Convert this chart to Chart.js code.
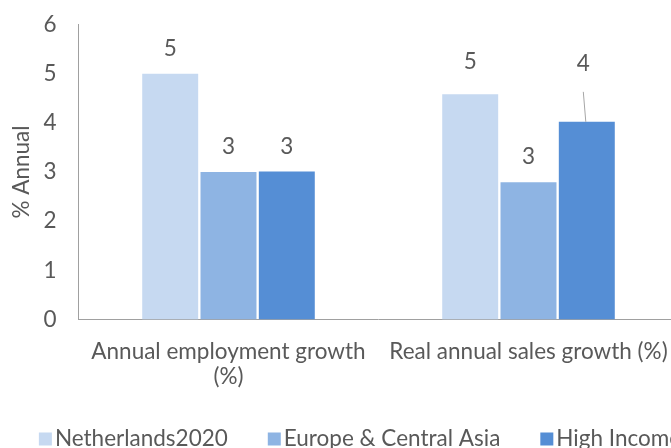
<!DOCTYPE html>
<html>
<head>
<meta charset="utf-8">
<script src="https://cdn.jsdelivr.net/npm/chart.js@4.4.0/dist/chart.umd.min.js"></script>
<style>
  html, body { margin: 0; padding: 0; background: #fff; overflow: hidden; }
  #wrap { width: 671px; height: 448px; overflow: hidden; }
  canvas { display: block; }
</style>
</head>
<body>
<div id="wrap"><canvas id="chart" width="720" height="448"></canvas></div>
<script>
// Chart data
const categories = [['Annual employment growth', '(%)'], 'Real annual sales growth (%)'];
const seriesNames = ['Netherlands2020', 'Europe & Central Asia', 'High Income'];
const netherlands = [5.0, 4.58];
const europeCentralAsia = [3.0, 2.79];
const highIncome = [3.01, 4.02];
const yTicks = [0, 1, 2, 3, 4, 5, 6];

const seriesColors = ['#C6D9F1', '#8EB4E3', '#558ED5'];
const textColor = '#595959';
const fontFamily = 'Lato, "Open Sans", sans-serif';
const fontSize = 22.5;

// Extra lift for labels that were dragged up in the original (key: category-dataset)
const labelNudge = { '1-0': 8, '1-1': 1, '1-2': 33 };

// Value labels above bars, rounded like the original
const valueLabels = {
  id: 'valueLabels',
  afterDatasetsDraw(chart) {
    const ctx = chart.ctx;
    ctx.save();
    ctx.font = `${fontSize}px ${fontFamily}`;
    ctx.fillStyle = textColor;
    ctx.textAlign = 'center';
    ctx.textBaseline = 'middle';
    chart.data.datasets.forEach((ds, di) => {
      chart.getDatasetMeta(di).data.forEach((bar, i) => {
        const extra = labelNudge[i + '-' + di] || 0;
        const lift = 25 + extra;
        const leader = extra > 20;
        const x = leader ? bar.x - 3.5 : bar.x;
        const y = bar.y - lift;
        ctx.fillText(Math.round(ds.data[i]), x, y);
        if (leader) {
          // leader line from the moved label back to the bar
          ctx.strokeStyle = '#a6a6a6';
          ctx.lineWidth = 1;
          ctx.beginPath();
          ctx.moveTo(x, y + 28);
          ctx.lineTo(bar.x - 1, bar.y);
          ctx.stroke();
        }
      });
    });
    ctx.restore();
  }
};

// Bottom legend drawn on one row, centred like the original chart
const bottomLegend = {
  id: 'bottomLegend',
  afterDraw(chart) {
    const ctx = chart.ctx;
    const box = 13, gap = 3, spacing = 40;
    const centerX = 360, y = 439;
    ctx.save();
    ctx.font = `${fontSize}px ${fontFamily}`;
    ctx.textBaseline = 'middle';
    ctx.textAlign = 'left';
    const widths = chart.data.datasets.map(ds => ctx.measureText(ds.label).width);
    const total = widths.reduce((a, w) => a + box + gap + w, 0) + spacing * (widths.length - 1);
    let x = centerX - total / 2;
    chart.data.datasets.forEach((ds, i) => {
      ctx.fillStyle = ds.backgroundColor;
      ctx.fillRect(x, y - box / 2, box, box);
      ctx.fillStyle = textColor;
      ctx.fillText(ds.label, x + box + gap, y);
      x += box + gap + widths[i] + spacing;
    });
    ctx.restore();
  }
};

const ctx = document.getElementById('chart');

new Chart(ctx, {
  type: 'bar',
  data: {
    labels: categories,
    datasets: seriesNames.map((name, i) => ({
      label: name,
      data: [netherlands, europeCentralAsia, highIncome][i],
      backgroundColor: seriesColors[i]
    }))
  },
  options: {
    responsive: false,
    animation: false,
    devicePixelRatio: 1,
    layout: { padding: { top: 24.5, right: 41.5, left: 0, bottom: 0 } },
    datasets: {
      bar: { barPercentage: 0.96, categoryPercentage: 0.583 }
    },
    scales: {
      y: {
        min: 0,
        max: 6,
        afterBuildTicks: scale => { scale.ticks = yTicks.map(v => ({ value: v })); },
        afterFit: scale => {
          scale.width = 78.5;
          scale.paddingTop = 0;
          scale.paddingBottom = 0;
        },
        grid: { display: false, drawTicks: false },
        border: { display: true, color: '#a0a0a0', width: 1 },
        ticks: { color: textColor, padding: 22, font: { family: fontFamily, size: fontSize } },
        title: {
          display: true,
          text: '% Annual',
          color: textColor,
          padding: { top: 8, bottom: 0 },
          font: { family: fontFamily, size: fontSize }
        }
      },
      x: {
        afterFit: scale => { scale.height = 128.5; },
        grid: { display: false, drawTicks: false },
        border: { display: true, color: '#a0a0a0', width: 1 },
        ticks: {
          color: textColor,
          padding: 20,
          maxRotation: 0,
          autoSkip: false,
          font: { family: fontFamily, size: fontSize, lineHeight: 1.1 }
        }
      }
    },
    plugins: {
      legend: { display: false },
      tooltip: { enabled: false }
    }
  },
  plugins: [valueLabels, bottomLegend]
});
</script>
</body>
</html>
